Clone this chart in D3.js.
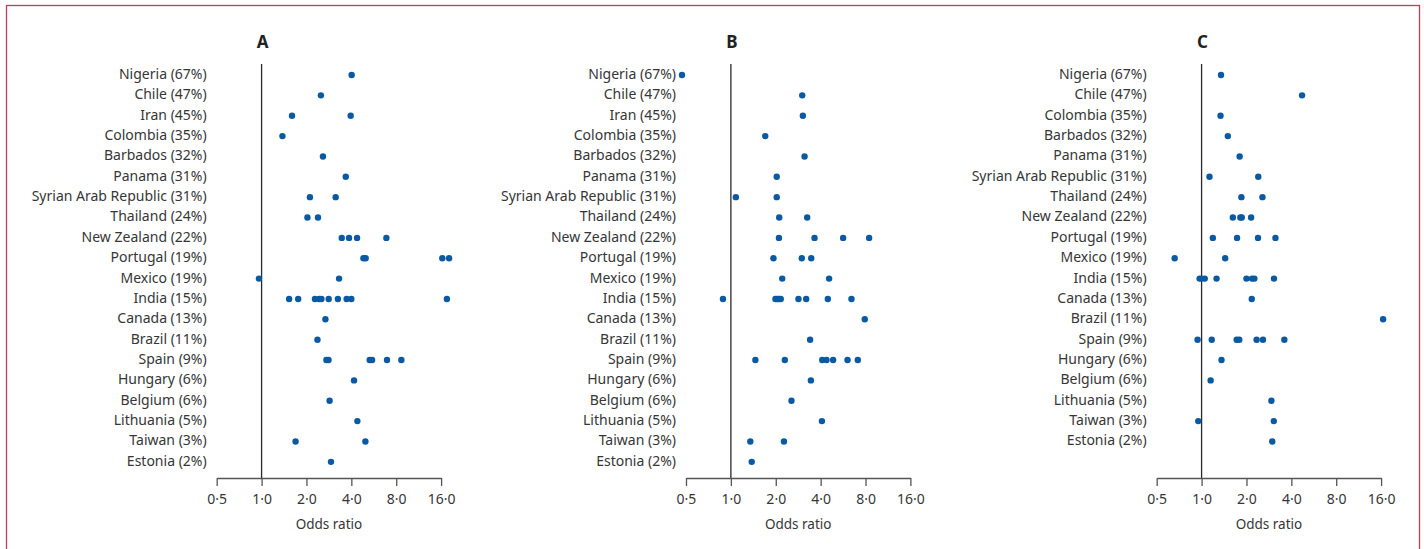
<!DOCTYPE html>
<html>
<head>
<meta charset="utf-8">
<script src="https://cdn.jsdelivr.net/npm/d3@7"></script>
<style>
  body { margin: 0; background: #fff; }
  svg text { font-family: "Noto Sans", sans-serif; fill: #363636; }
</style>
</head>
<body>
<div id="chart"></div>
<script>
// country rows (panels A and B share them, C has no Iran)
var countriesAB = ["Nigeria (67%)", "Chile (47%)", "Iran (45%)", "Colombia (35%)", "Barbados (32%)",
  "Panama (31%)", "Syrian Arab Republic (31%)", "Thailand (24%)", "New Zealand (22%)", "Portugal (19%)",
  "Mexico (19%)", "India (15%)", "Canada (13%)", "Brazil (11%)", "Spain (9%)", "Hungary (6%)",
  "Belgium (6%)", "Lithuania (5%)", "Taiwan (3%)", "Estonia (2%)"];
var countriesC = ["Nigeria (67%)", "Chile (47%)", "Colombia (35%)", "Barbados (32%)",
  "Panama (31%)", "Syrian Arab Republic (31%)", "Thailand (24%)", "New Zealand (22%)", "Portugal (19%)",
  "Mexico (19%)", "India (15%)", "Canada (13%)", "Brazil (11%)", "Spain (9%)", "Hungary (6%)",
  "Belgium (6%)", "Lithuania (5%)", "Taiwan (3%)", "Estonia (2%)"];

// odds ratios, one list per country row
var valuesA = [
  [4.02], [2.5], [1.6, 3.96], [1.38], [2.58], [3.67], [2.11, 3.14], [2.03, 2.39],
  [3.45, 3.86, 4.37, 6.87], [4.82, 4.99, 16.3, 18.1], [0.96, 3.31],
  [1.53, 1.76, 2.28, 2.43, 2.52, 2.82, 3.25, 3.72, 4.0, 17.5], [2.68], [2.37],
  [2.72, 2.81, 5.31, 5.51, 6.94, 8.66], [4.17], [2.86], [4.39], [1.69, 4.97], [2.92]
];
var valuesB = [
  [0.47], [3.01], [3.04], [1.7], [3.12], [2.03], [1.08, 2.03], [2.11, 3.25],
  [2.1, 3.64, 5.66, 8.46], [1.93, 2.99, 3.46], [2.21, 4.56],
  [0.885, 1.99, 2.04, 2.1, 2.16, 2.84, 3.2, 4.47, 6.44], [7.91], [3.4],
  [1.46, 2.3, 4.1, 4.38, 4.85, 6.06, 7.1], [3.44], [2.55], [4.08], [1.35, 2.27], [1.38]
];
var valuesC = [
  [1.35], [4.72], [1.34], [1.5], [1.8], [1.13, 2.4], [1.85, 2.56], [1.62, 1.82, 1.86, 2.15],
  [1.19, 1.73, 2.39, 3.13], [0.66, 1.44], [0.97, 1.0, 1.05, 1.26, 2.0, 2.18, 2.26, 3.06],
  [2.17], [16.5], [0.94, 1.17, 1.72, 1.79, 2.34, 2.58, 3.59], [1.36], [1.15], [2.94], [0.95, 3.05], [2.98]
];

var tickValues = [0.5, 1, 2, 4, 8, 16];

var width = 1424, height = 549;
var svg = d3.select("#chart").append("svg")
  .attr("width", width)
  .attr("height", height);

// frame
svg.append("rect")
  .attr("x", 6.5).attr("y", 5.5)
  .attr("width", 1413).attr("height", 560)
  .attr("fill", "none")
  .attr("stroke", "#c23a5e")
  .attr("stroke-width", 1.3);

var rowStep = 20.36, rowTop = 75, axisY = 478;

var panels = [
  { name: "A", rows: countriesAB, values: valuesA, left: 216.7 },
  { name: "B", rows: countriesAB, values: valuesB, left: 686 },
  { name: "C", rows: countriesC, values: valuesC, left: 1156.7 }
];

panels.forEach(function(p) {
  var x = d3.scaleLog().base(2)
    .domain([0.5, 16])
    .range([p.left, p.left + 224.4]);

  var y = d3.scalePoint()
    .domain(p.rows)
    .range([rowTop, rowTop + (p.rows.length - 1) * rowStep]);

  var g = svg.append("g");

  // title
  g.append("text")
    .attr("x", x(1) + 1)
    .attr("y", 48)
    .attr("text-anchor", "middle")
    .style("font-size", "17px")
    .style("font-weight", "bold")
    .style("fill", "#222")
    .text(p.name);

  // reference line at OR = 1
  g.append("line")
    .attr("x1", x(1)).attr("x2", x(1))
    .attr("y1", 64).attr("y2", axisY)
    .attr("stroke", "#2a2a2a")
    .attr("stroke-width", 1.3);

  // axis
  var axis = d3.axisBottom(x)
    .tickValues(tickValues)
    .tickSize(8)
    .tickSizeOuter(0)
    .tickPadding(8)
    .tickFormat(function(d) { return d3.format(".1f")(d).replace(".", "·"); });

  var ax = g.append("g")
    .attr("transform", "translate(0," + axisY + ")")
    .call(axis);
  ax.select(".domain").attr("stroke", "#555").attr("stroke-width", 1.3);
  ax.selectAll(".tick line").attr("stroke", "#555").attr("stroke-width", 1.3);
  ax.selectAll(".tick text")
    .style("font-size", "14px")
    .style("fill", "#363636")
    .style("font-family", "'Noto Sans', sans-serif");

  g.append("text")
    .attr("x", (x.range()[0] + x.range()[1]) / 2)
    .attr("y", 529)
    .attr("text-anchor", "middle")
    .style("font-size", "13.5px")
    .text("Odds ratio");

  // row labels
  g.selectAll(".label")
    .data(p.rows)
    .enter().append("text")
    .attr("class", "label")
    .attr("x", p.left - 10)
    .attr("y", function(d) { return y(d) - 1; })
    .attr("dy", "0.35em")
    .attr("text-anchor", "end")
    .style("font-size", "14px")
    .text(function(d) { return d; });

  // dots
  var pts = [];
  p.values.forEach(function(vals, i) {
    vals.forEach(function(v) { pts.push({ row: p.rows[i], v: v }); });
  });
  g.selectAll(".dot")
    .data(pts)
    .enter().append("circle")
    .attr("class", "dot")
    .attr("cx", function(d) { return x(d.v); })
    .attr("cy", function(d) { return y(d.row); })
    .attr("r", 3.2)
    .attr("fill", "#0a5aa3");
});
</script>
</body>
</html>
